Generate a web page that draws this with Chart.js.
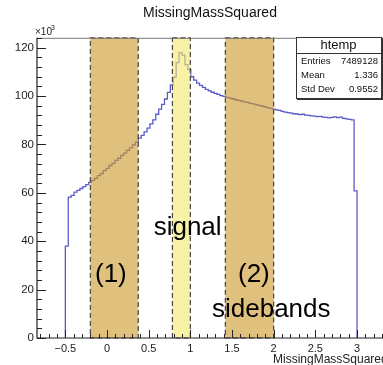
<!DOCTYPE html>
<html>
<head>
<meta charset="utf-8">
<script src="https://cdn.jsdelivr.net/npm/chart.js@4.4.1/dist/chart.umd.min.js"></script>
<style>
html, body { margin: 0; padding: 0; background: #fff; }
#cv { display: block; }
</style>
</head>
<body>
<canvas id="cv" width="383" height="365"></canvas>
<script>
// histogramm: 100 bins von -0.5 bis 3.0, inhalt in 10^3
const binStart = -0.5;
const binWidth = 0.035;
const counts = [
  38.0, 58.2, 59.0, 60.3, 61.0, 61.8, 62.6, 63.4, 64.3, 65.2,
  66.0, 67.1, 68.0, 69.2, 70.1, 71.3, 72.2, 73.4, 74.3, 75.5,
  76.4, 77.6, 78.6, 79.8, 81.0, 82.6, 83.8, 85.2, 86.8, 88.5,
  90.2, 92.5, 94.6, 96.6, 98.8, 101.5, 104.6, 107.8, 113.8, 118.0,
  116.9, 113.0, 111.0, 108.0, 106.6, 105.4, 104.4, 103.6, 102.8, 102.2,
  101.6, 101.1, 100.7, 100.2, 99.9, 99.5, 99.2, 98.9, 98.5, 98.2,
  97.9, 97.6, 97.4, 97.0, 96.8, 96.5, 96.2, 95.9, 95.6, 95.2,
  94.9, 94.6, 94.3, 94.1, 93.7, 93.4, 93.2, 93.0, 92.7, 92.6,
  92.3, 92.5, 92.1, 92.0, 91.8, 91.7, 91.5, 91.6, 91.3, 91.2,
  91.0, 91.2, 91.4, 91.1, 91.3, 90.8, 90.6, 90.4, 90.2, 60.8
];

// achsen
const xMin = -0.84, xMax = 3.312;
const yMin = 0, yMax = 124.1;
const xTickValues = [-0.5, 0, 0.5, 1, 1.5, 2, 2.5, 3];
const yTickValues = [0, 20, 40, 60, 80, 100, 120];

// bereiche: sideband (1), signal, sideband (2)
const bandKinds = ['side', 'signal', 'side'];
const bandLow = [-0.2, 0.785, 1.42];
const bandHigh = [0.375, 1.0, 2.0];

// beschriftungen im plot (x links, y grundlinie, in achsenwerten)
const noteTexts = ['signal', '(1)', '(2)', 'sidebands'];
const noteX = [0.56, -0.144, 1.572, 1.26];
const noteY = [42.5, 23.2, 23.2, 8.7];

// statistik box
const statTitle = 'htemp';
const statNames = ['Entries', 'Mean', 'Std Dev'];
const statValues = ['7489128', '1.336', '0.9552'];

const FONT = '"Liberation Sans", Arial, Helvetica, sans-serif';

// punkte für den stufenplot an den linken bin-kanten
let points = [{x: binStart, y: 0}];
counts.forEach((c, i) => points.push({x: binStart + i * binWidth, y: c}));
points.push({x: binStart + counts.length * binWidth, y: 0});

const rootFrame = {
  id: 'rootFrame',
  afterDatasetsDraw(chart) {
    const ctx = chart.ctx;
    const a = chart.chartArea;
    const xs = chart.scales.x, ys = chart.scales.y;
    ctx.save();

    // bereiche halbtransparent über das histogramm
    for (let i = 0; i < bandLow.length; i++) {
      const x0 = xs.getPixelForValue(bandLow[i]);
      const x1 = xs.getPixelForValue(bandHigh[i]);
      ctx.fillStyle = bandKinds[i] == 'signal' ? 'rgba(242,234,112,0.62)' : 'rgba(204,154,44,0.62)';
      ctx.fillRect(x0, a.top, x1 - x0, a.bottom - a.top);
      ctx.setLineDash([5, 3]);
      ctx.strokeStyle = '#444';
      ctx.lineWidth = 1.2;
      ctx.strokeRect(x0, a.top, x1 - x0, a.bottom - a.top);
    }
    ctx.setLineDash([]);

    // rahmen
    ctx.strokeStyle = '#777';
    ctx.lineWidth = 1;
    ctx.beginPath();
    ctx.moveTo(a.left, a.top + 0.5);
    ctx.lineTo(a.right, a.top + 0.5);
    ctx.stroke();
    ctx.strokeStyle = '#222';
    ctx.lineWidth = 1.2;
    ctx.beginPath();
    ctx.moveTo(a.left, a.top);
    ctx.lineTo(a.left, a.bottom);
    ctx.lineTo(a.right, a.bottom);
    ctx.stroke();

    // y ticks (nach innen)
    ctx.lineWidth = 1;
    ctx.beginPath();
    for (let v = 0; v <= yMax; v += 4) {
      const y = Math.round(ys.getPixelForValue(v)) + 0.5;
      const len = v % 20 == 0 ? 9 : 5;
      ctx.moveTo(a.left, y);
      ctx.lineTo(a.left + len, y);
    }
    // x ticks
    for (let k = -8; k <= 33; k++) {
      const x = Math.round(xs.getPixelForValue(k / 10)) + 0.5;
      const len = k % 5 == 0 ? 8 : 4;
      ctx.moveTo(x, a.bottom);
      ctx.lineTo(x, a.bottom - len);
    }
    ctx.stroke();

    // x10^3
    ctx.fillStyle = '#222';
    ctx.textAlign = 'left';
    ctx.textBaseline = 'alphabetic';
    ctx.font = '10px ' + FONT;
    ctx.fillText('\u00d710', a.left - 2, a.top - 3);
    ctx.font = '7px ' + FONT;
    ctx.fillText('3', a.left + 14, a.top - 8);

    // x achsentitel
    ctx.font = '12px ' + FONT;
    ctx.fillText('MissingMassSquared', 273, 363);

    // beschriftungen
    ctx.fillStyle = '#000';
    ctx.font = '26px ' + FONT;
    for (let i = 0; i < noteTexts.length; i++) {
      ctx.fillText(noteTexts[i], xs.getPixelForValue(noteX[i]), ys.getPixelForValue(noteY[i]));
    }

    // statistik box
    const bx = 296, by = 37, bw = 85, bh = 61;
    ctx.fillStyle = '#fff';
    ctx.fillRect(bx, by, bw, bh);
    ctx.strokeStyle = '#333';
    ctx.lineWidth = 1;
    ctx.strokeRect(bx + 0.5, by + 0.5, bw, bh);
    ctx.lineWidth = 1.6;
    ctx.beginPath();
    ctx.moveTo(bx + 1, by + bh + 1.3);
    ctx.lineTo(bx + bw + 1.3, by + bh + 1.3);
    ctx.lineTo(bx + bw + 1.3, by + 1);
    ctx.stroke();
    ctx.lineWidth = 1;
    ctx.beginPath();
    ctx.moveTo(bx, by + 16.5);
    ctx.lineTo(bx + bw, by + 16.5);
    ctx.stroke();
    ctx.fillStyle = '#111';
    ctx.textAlign = 'center';
    ctx.textBaseline = 'middle';
    ctx.font = '13px ' + FONT;
    ctx.fillText(statTitle, bx + bw / 2, by + 8.5);
    ctx.font = '9.5px ' + FONT;
    for (let i = 0; i < statNames.length; i++) {
      const y = by + 24.5 + i * 14;
      ctx.textAlign = 'left';
      ctx.fillText(statNames[i], bx + 5, y);
      ctx.textAlign = 'right';
      ctx.fillText(statValues[i], bx + bw - 3, y);
    }
    ctx.restore();
  }
};

const cv = document.getElementById('cv');
new Chart(cv.getContext('2d'), {
  type: 'line',
  data: {
    datasets: [{
      label: 'htemp',
      data: points,
      stepped: 'before',
      borderColor: '#5c5cc8',
      borderWidth: 1.3,
      pointRadius: 0,
      fill: false,
      tension: 0
    }]
  },
  options: {
    responsive: false,
    animation: false,
    devicePixelRatio: 1,
    layout: { padding: 0 },
    plugins: {
      legend: { display: false },
      tooltip: { enabled: false },
      title: {
        display: true,
        text: 'MissingMassSquared',
        fullSize: false,
        color: '#111',
        font: { family: FONT, size: 14, weight: 'normal' },
        padding: { top: 5, bottom: 16 }
      }
    },
    scales: {
      x: {
        type: 'linear',
        min: xMin,
        max: xMax,
        grid: { display: false, drawTicks: false },
        border: { display: false },
        ticks: {
          color: '#222',
          font: { family: FONT, size: 11 },
          padding: 4,
          maxRotation: 0,
          autoSkip: false,
          callback: v => v < 0 ? '\u2212' + Math.abs(v) : String(v)
        },
        afterBuildTicks: s => { s.ticks = xTickValues.map(v => ({value: v})); },
        afterFit: s => { s.height = 27; }
      },
      y: {
        min: yMin,
        max: yMax,
        grid: { display: false, drawTicks: false },
        border: { display: false },
        ticks: {
          color: '#222',
          font: { family: FONT, size: 11.5 },
          padding: 3,
          autoSkip: false
        },
        afterBuildTicks: s => { s.ticks = yTickValues.map(v => ({value: v})); },
        afterFit: s => { s.width = 37; }
      }
    }
  },
  plugins: [rootFrame]
});
</script>
</body>
</html>
